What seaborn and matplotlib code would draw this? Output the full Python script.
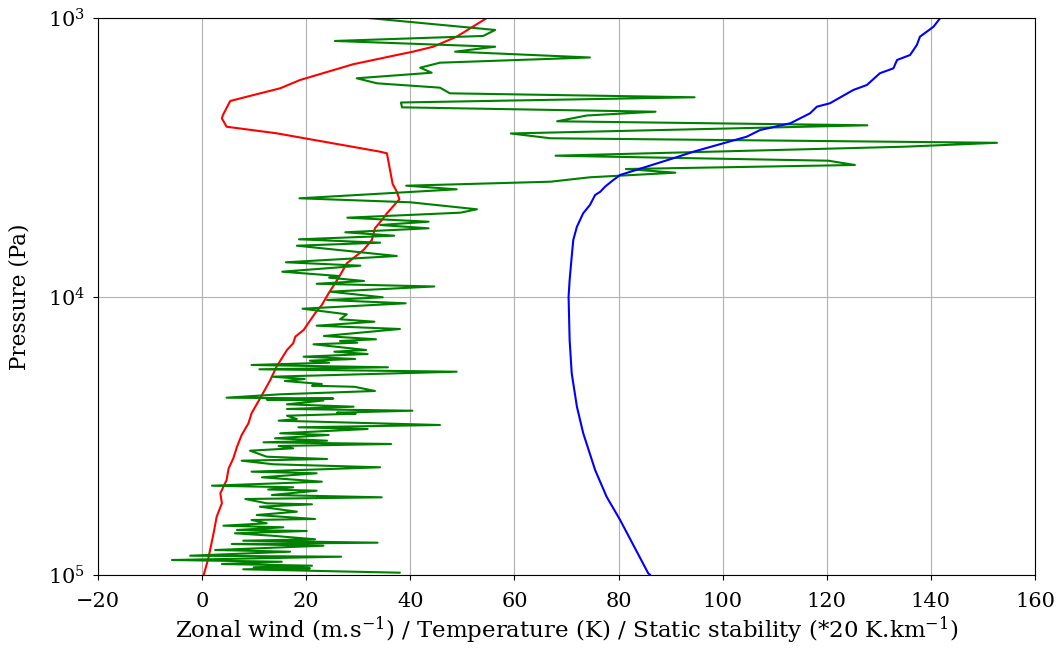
import matplotlib
matplotlib.use("Agg")
import matplotlib.pyplot as plt
import seaborn as sns
import pandas as pd

# Zonal wind (m/s) vs pressure (Pa)
wind_p = [100000, 87100, 70838, 61750, 55278, 50890, 45600, 41380, 38100, 34620,
          31426, 28530, 26260, 22580, 19940, 17870, 15562, 14720, 13940, 13190,
          11490, 10725, 9739, 8580, 7599, 6808, 6269, 5690, 5240, 5027,
          4477, 4204, 3945, 3514, 3061, 3020, 2594, 2457, 2292, 2230,
          1986, 1917, 1788, 1670, 1466, 1358, 1321, 1268, 1167, 1000]
wind_u = [0.3, 1.2, 2.2, 2.8, 3.8, 3.5, 4.7, 5.1, 6.0, 6.7,
          7.6, 8.9, 9.5, 11.5, 13.1, 14.3, 16.3, 17.5, 17.9, 19.5,
          21.7, 23.0, 24.3, 26.2, 27.8, 31.0, 32.6, 33.2, 34.8, 35.5,
          37.9, 37.4, 36.6, 36.1, 35.5, 34.2, 14.3, 4.7, 3.8, 4.0,
          5.4, 8.6, 15.0, 18.8, 29.0, 37.4, 40.5, 44.4, 48.9, 54.7]

# Temperature (K) vs pressure (Pa)
temp_p = [100000, 98600, 63460, 52340, 41980, 30910, 24870, 18870, 14330, 10020,
          8725, 7195, 6269, 5616, 5027, 4692, 4320, 4204, 4034, 3816,
          3662, 3190, 3020, 2818, 2669, 2525, 2388, 2198, 2082, 2024,
          1813, 1740, 1579, 1516, 1415, 1358, 1250, 1167, 1075, 1000]
temp_t = [86.1, 85.7, 80.3, 77.7, 75.5, 73.2, 72.0, 71.0, 70.6, 70.4,
          70.6, 71.0, 71.3, 72.0, 73.2, 74.5, 75.5, 76.5, 77.4, 79.0,
          80.3, 90.5, 94.4, 100.1, 104.6, 107.2, 113.0, 116.8, 118.1, 120.6,
          125.1, 127.7, 130.2, 132.8, 133.5, 136.0, 137.3, 137.9, 140.5, 141.8]

# Static stability (*20 K/km) vs pressure (Pa)
stab_p = [1000, 1104, 1160, 1209, 1268, 1321, 1386, 1447, 1508, 1572,
          1646, 1716, 1779, 1864, 1926, 2011, 2093, 2170, 2239, 2349,
          2428, 2598, 2703, 2806, 2898, 3122, 3254, 3371, 3485, 3593,
          3732, 3871, 4001, 4122, 4440, 4589, 4863, 5001, 5212, 5388,
          5537, 5690, 5881, 6049, 6232, 6409, 6570, 7154, 7536, 7751,
          8146, 8440, 8559, 8796, 9002, 9205, 9610, 10066, 10293, 10578,
          11061, 11585, 12074, 12317, 12730, 13082, 13861, 14244, 14445, 14650,
          14845, 15562, 15782, 16085, 16448, 16764, 17001, 17285, 17617, 17955,
          18255, 18621, 19407, 19780, 20110, 20615, 20906, 21097, 21842, 22446,
          23087, 23240, 23433, 23627, 24383, 24870, 25347, 25706, 26135, 26352,
          26792, 27532, 27922, 28932, 29488, 29906, 30988, 31426, 32294, 32942,
          33380, 33853, 34418, 35079, 35781, 37601, 38323, 38866, 40040, 41044,
          42565, 43132, 44585, 46235, 47790, 48427, 49317, 49808, 51611, 52603,
          53348, 55278, 55737, 56854, 59251, 60891, 62938, 63460, 65215, 66523,
          67410, 68931, 69503, 70838, 72258, 74441, 75308, 76563, 77391, 78487,
          81330, 82480, 85260, 85960, 88340, 89610, 91310, 92600, 93840, 94610,
          95400, 98120]
stab_n = [31.9, 56.3, 54.0, 25.5, 56.3, 48.6, 74.5, 45.7, 41.9, 44.1,
          29.7, 33.6, 45.7, 47.6, 94.6, 38.2, 38.4, 87.1, 73.9, 68.2,
          127.8, 59.3, 66.9, 152.7, 135.0, 67.9, 120.3, 125.4, 81.4, 90.9,
          74.5, 66.9, 39.2, 48.9, 18.7, 40.0, 52.8, 49.6, 27.9, 43.5,
          34.2, 43.5, 27.5, 36.9, 18.6, 34.2, 18.2, 37.4, 16.1, 30.4,
          15.4, 26.2, 24.4, 31.1, 22.0, 44.6, 24.6, 34.7, 24.0, 39.1,
          19.3, 27.8, 26.5, 33.1, 22.0, 38.0, 23.4, 33.4, 26.5, 29.8,
          21.4, 31.5, 25.4, 31.8, 19.5, 29.4, 20.7, 24.4, 9.5, 35.7,
          11.0, 48.9, 13.4, 19.7, 15.9, 23.0, 21.1, 29.3, 33.2, 15.0,
          4.7, 25.2, 12.4, 23.3, 16.3, 29.1, 16.3, 40.4, 25.9, 29.5,
          16.3, 18.2, 14.7, 45.7, 18.5, 31.8, 15.0, 24.3, 14.0, 24.0,
          11.8, 36.3, 14.7, 17.5, 9.2, 12.4, 24.0, 7.6, 13.7, 34.2,
          9.5, 22.0, 11.5, 23.0, 1.9, 17.5, 12.7, 22.0, 13.4, 34.5,
          8.3, 12.4, 21.1, 11.1, 18.2, 10.5, 21.7, 9.5, 12.4, 4.1,
          15.6, 6.7, 20.1, 6.3, 13.4, 21.7, 7.9, 33.7, 5.7, 23.3,
          2.5, 16.9, -2.3, 26.7, -5.8, 15.3, 3.8, 21.1, 9.9, 20.7,
          7.9, 38.0]

xticks = [-20, 0, 20, 40, 60, 80, 100, 120, 140, 160]
xlabel = "Zonal wind (m.s$^{-1}$) / Temperature (K) / Static stability (*20 K.km$^{-1}$)"
ylabel = "Pressure (Pa)"

sns.set_style("ticks")
plt.rcParams["font.family"] = ["DejaVu Serif"]
plt.rcParams["mathtext.fontset"] = "dejavuserif"
plt.rcParams["text.color"] = "black"
plt.rcParams["axes.labelcolor"] = "black"
plt.rcParams["xtick.color"] = "black"
plt.rcParams["ytick.color"] = "black"

fig = plt.figure(figsize=(10.6, 6.48), dpi=100)
ax = fig.add_axes([98 / 1060, 73 / 648, 937 / 1060, 557 / 648])

df_w = pd.DataFrame({"x": wind_u, "p": wind_p})
df_t = pd.DataFrame({"x": temp_t, "p": temp_p})
df_s = pd.DataFrame({"x": stab_n, "p": stab_p})

sns.lineplot(data=df_w, x="x", y="p", sort=False, estimator=None, color="red", lw=1.5, ax=ax)
sns.lineplot(data=df_s, x="x", y="p", sort=False, estimator=None, color="green", lw=1.5, ax=ax)
sns.lineplot(data=df_t, x="x", y="p", sort=False, estimator=None, color="blue", lw=1.5, ax=ax)

ax.set_yscale("log")
ax.set_ylim(1e5, 1e3)
ax.set_xlim(-20, 160)
ax.set_xticks(xticks)
ax.minorticks_off()
ax.grid(True, color="#b0b0b0", lw=0.8)
for s in ax.spines.values():
    s.set_visible(True)
    s.set_color("black")
ax.tick_params(labelsize=15, colors="black")
ax.tick_params(axis="x", pad=9)
ax.tick_params(axis="y", pad=6)
ax.set_xlabel(xlabel, fontsize=16.5, labelpad=2)
ax.set_ylabel(ylabel, fontsize=15.5, labelpad=12)

fig.savefig("out.png", dpi=100)
